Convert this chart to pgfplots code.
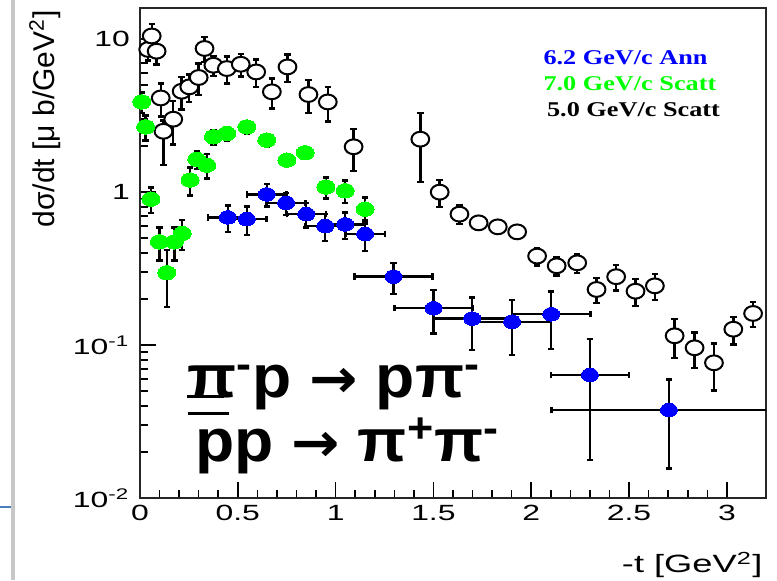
\documentclass[border=0pt]{standalone}
\usepackage{pgfplots}
\pgfplotsset{compat=1.18}
\usepackage{pgfplotstable}
\usepackage{fontspec}
\setmainfont{Liberation Sans}
\newfontfamily\serif{Liberation Serif}
\newfontfamily\dejavu{DejaVu Sans}
\definecolor{rgreen}{HTML}{00FF00}
\definecolor{rblue}{HTML}{0000FF}
\definecolor{winblue}{HTML}{4A7EBB}

% 5.0 GeV/c scattering (open circles)
\pgfplotstableread{
x y ep em
0.042 8.57 1.3 1.3
0.060 10.5 2.1 2.1
0.085 8.35 1.5 1.5
0.106 4.13 1.0 1.0
0.120 2.50 0.45 1.0
0.170 3.00 0.95 0.95
0.213 4.57 1.1 1.1
0.252 4.88 1.0 1.0
0.300 5.62 1.3 1.3
0.330 8.70 1.6 1.6
0.375 6.76 1.0 1.0
0.444 6.43 1.3 1.3
0.515 6.86 1.15 1.15
0.594 6.11 1.25 1.25
0.674 4.53 1.0 1.0
0.754 6.59 1.35 1.35
0.861 4.35 1.05 1.05
0.960 3.89 1.0 1.0
1.092 1.98 0.6 0.6
1.433 2.22 1.06 1.06
1.532 1.00 0.2 0.2
1.633 0.718 0.1 0.1
1.731 0.630 0.065 0.065
1.829 0.593 0.05 0.05
1.928 0.550 0.04 0.04
2.030 0.382 0.05 0.05
2.130 0.330 0.045 0.045
2.235 0.345 0.05 0.05
2.334 0.231 0.043 0.043
2.434 0.280 0.053 0.053
2.533 0.225 0.045 0.045
2.632 0.244 0.047 0.047
2.733 0.115 0.033 0.033
2.835 0.096 0.025 0.025
2.934 0.0766 0.026 0.026
3.033 0.127 0.026 0.026
3.134 0.161 0.03 0.03
}\scattfive

% 7.0 GeV/c scattering (green)
\pgfplotstableread{
x y ey
0.009 3.89 0.6
0.029 2.67 0.5
0.056 0.90 0.17
0.099 0.473 0.115
0.137 0.297 0.12
0.176 0.473 0.115
0.216 0.537 0.12
0.256 1.20 0.25
0.290 1.64 0.22
0.341 1.50 0.27
0.375 2.30 0.25
0.444 2.42 0.25
0.546 2.67 0.25
0.648 2.19 0.2
0.751 1.62 0.12
0.844 1.81 0.1
0.950 1.08 0.17
1.049 1.02 0.17
1.151 0.774 0.15
}\scattseven

% 6.2 GeV/c annihilation (blue)
\pgfplotstableread{
x y ex ey
0.449 0.684 0.1 0.135
0.546 0.666 0.1 0.14
0.648 0.966 0.1 0.16
0.747 0.851 0.1 0.14
0.850 0.718 0.1 0.13
0.947 0.600 0.1 0.12
1.049 0.615 0.1 0.12
1.151 0.532 0.1 0.12
1.296 0.280 0.2 0.065
1.501 0.174 0.2 0.055
1.698 0.149 0.2 0.056
1.902 0.142 0.2 0.056
2.102 0.159 0.2 0.065
2.300 0.0637 0.2 0.046
2.704 0.0376 0.6 0.022
}\ann

\pgfplotsset{
  ebar/.style={error bars/error bar style={line width=1.2pt, black},
    error bars/error mark options={rotate=90, draw=black, line width=1.2pt, mark size=1.6pt}},
}

\begin{document}
\begin{tikzpicture}
\useasboundingbox (-70pt,-41pt) rectangle (318.5pt,249pt);
\draw[black!22, line width=1.8pt] (-63.5pt,-41pt) -- (-63.5pt,249pt);
\draw[winblue, line width=1pt] (-70pt,-4.3pt) -- (-64.6pt,-4.3pt);
\begin{axis}[
  at={(0,0)}, anchor=south west, scale only axis,
  width=313pt, height=245pt,
  xmin=0, xmax=3.2, ymode=log, ymin=0.01, ymax=16,
  xtick={0,0.5,1,1.5,2,2.5,3},
  xticklabels={0,0.5,1,1.5,2,2.5,3},
  minor x tick num=4,
  ytick={0.01,0.1,1,10},
  yticklabels={10\textsuperscript{-2},10\textsuperscript{-1},1,10},
  minor ytick={0.02,0.03,0.04,0.05,0.06,0.07,0.08,0.09,0.2,0.3,0.4,0.5,0.6,0.7,0.8,0.9,2,3,4,5,6,7,8,9},
  tick pos=left, tick align=inside,
  major tick length=8pt, minor tick length=4pt,
  every tick/.style={black, line width=0.8pt},
  axis line style={line width=1pt, black!85},
  xticklabel style={font=\fontsize{11}{13}\selectfont, xscale=1.45},
  yticklabel style={font=\fontsize{11}{13}\selectfont, xscale=1.45},
]
\addplot[black, only marks, mark=*, mark size=3.7pt,
  mark options={draw=black, fill=white, line width=1pt, xscale=1.2},
  ebar, error bars/y dir=both, error bars/y explicit]
  table[x=x, y=y, y error plus=ep, y error minus=em] {\scattfive};

\addplot[black, only marks, mark=*, mark size=3.6pt,
  mark options={draw=rgreen, fill=rgreen, line width=0pt, xscale=1.25},
  ebar, error bars/y dir=both, error bars/y explicit]
  table[x=x, y=y, y error=ey] {\scattseven};

\addplot[black, only marks, mark=*, mark size=3.4pt,
  mark options={draw=rblue, fill=rblue, line width=0pt, xscale=1.25},
  ebar, error bars/x dir=both, error bars/x explicit,
  error bars/y dir=both, error bars/y explicit]
  table[x=x, y=y, x error=ex, y error=ey] {\ann};
\end{axis}

% axis titles
\node[rotate=90, anchor=east, inner sep=0, font=\fontsize{15}{17}\selectfont]
  at (-47.5pt,244pt) {dσ/dt [μ b/GeV\textsuperscript{2}]};
\node[anchor=east, inner sep=0, font=\fontsize{12.5}{14}\selectfont, xscale=1.45]
  at (311.5pt,-33.5pt) {-t [GeV\textsuperscript{2}]};

% legend
\node[anchor=west, inner sep=0, text=rblue, font=\serif\bfseries\fontsize{10.5}{12}\selectfont, xscale=1.25]
  at (201.5pt,220.3pt) {6.2 GeV/c Ann};
\node[anchor=west, inner sep=0, text=rgreen, font=\serif\bfseries\fontsize{10.5}{12}\selectfont, xscale=1.25]
  at (201.5pt,207.3pt) {7.0 GeV/c Scatt};
\node[anchor=west, inner sep=0, text=black, font=\serif\bfseries\fontsize{10.5}{12}\selectfont, xscale=1.25]
  at (203.3pt,194.3pt) {5.0 GeV/c Scatt};

% reactions
\node[anchor=base west, inner sep=0, font=\bfseries\fontsize{30}{34}\selectfont, xscale=1.07]
  at (23.5pt,50.5pt) {\rlap{\rule[-0.5pt]{17pt}{1.6pt}}π\textsuperscript{-}p {\dejavu\fontsize{27}{30}\selectfont→} pπ\textsuperscript{-}};
\node[anchor=base west, inner sep=0, font=\bfseries\fontsize{30}{34}\selectfont, xscale=1.07]
  at (27.5pt,18.5pt) {\rlap{\kern-3.5pt\rule[23pt]{19pt}{1.5pt}}pp {\dejavu\fontsize{27}{30}\selectfont→} π\textsuperscript{+}π\textsuperscript{-}};
\end{tikzpicture}
\end{document}
